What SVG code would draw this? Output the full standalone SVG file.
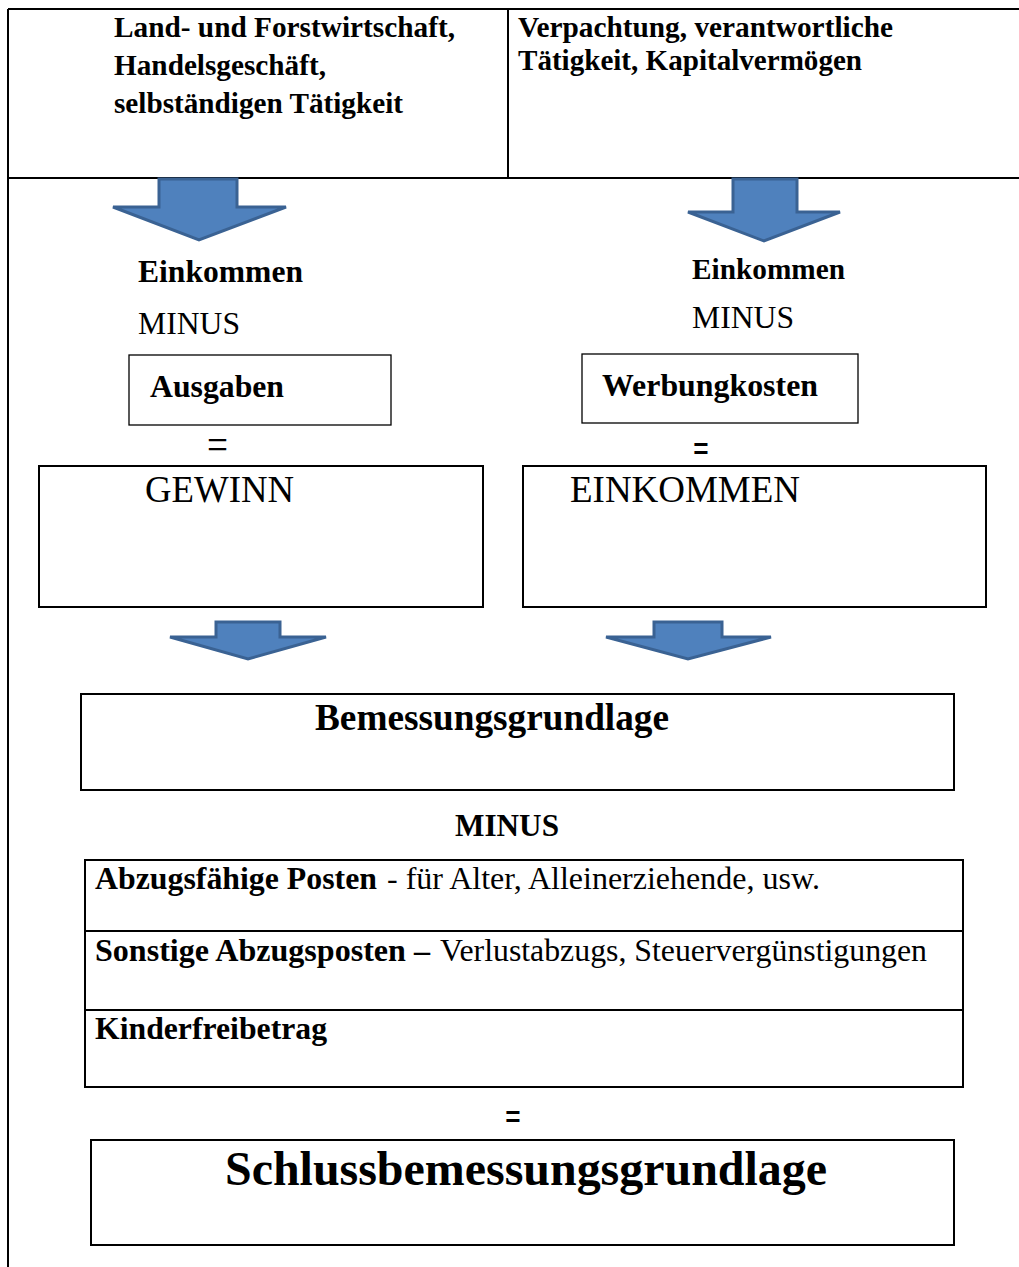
<svg xmlns="http://www.w3.org/2000/svg" width="1019" height="1267" viewBox="0 0 1019 1267">
<style>
  text { font-family: "Liberation Serif", "Times New Roman", serif; fill: #000; }
  .b { font-weight: bold; }
  .frame { stroke: #000; stroke-width: 2; fill: none; }
  .box { stroke: #000; stroke-width: 2; fill: #fff; }
  .thin { stroke: #000; stroke-width: 1.3; fill: #fff; }
  .arrow { fill: #4F81BD; stroke: #3A6293; stroke-width: 3; stroke-linejoin: miter; }
</style>
<rect x="0" y="0" width="1019" height="1267" fill="#fff"/>

<g id="frame">
  <line class="frame" x1="8" y1="9" x2="1019" y2="9"/>
  <line class="frame" x1="8" y1="9" x2="8" y2="1267"/>
  <line class="frame" x1="508" y1="9" x2="508" y2="178"/>
  <line class="frame" x1="8" y1="178" x2="1019" y2="178"/>
</g>

<g id="source-left">
  <text class="b" font-size="29" x="114" y="37" textLength="341" lengthAdjust="spacingAndGlyphs">Land- und Forstwirtschaft,</text>
  <text class="b" font-size="29" x="114" y="75" textLength="212" lengthAdjust="spacingAndGlyphs">Handelsgeschäft,</text>
  <text class="b" font-size="29" x="114" y="113" textLength="289" lengthAdjust="spacingAndGlyphs">selbständigen Tätigkeit</text>
</g>

<g id="source-right">
  <text class="b" font-size="29" x="518" y="37" textLength="375" lengthAdjust="spacingAndGlyphs">Verpachtung, verantwortliche</text>
  <text class="b" font-size="29" x="518" y="70" textLength="344" lengthAdjust="spacingAndGlyphs">Tätigkeit, Kapitalvermögen</text>
</g>

<g id="connectors">
  <path class="arrow" d="M159,179 L237,179 L237,207 L286,207 L199,240 L113,207 L159,207 Z"/>
  <path class="arrow" d="M733,179 L797,179 L797,212 L840,212 L764,241 L688,212 L733,212 Z"/>
  <path class="arrow" d="M216,622 L280,622 L280,637 L326,637 L248,659 L170,637 L216,637 Z"/>
  <path class="arrow" d="M654,622 L722,622 L722,637 L771,637 L688,659 L606,637 L654,637 Z"/>
</g>

<g id="calc-left">
  <text class="b" font-size="31" x="138" y="282" textLength="165" lengthAdjust="spacingAndGlyphs">Einkommen</text>
  <text font-size="31" x="138" y="334" textLength="102" lengthAdjust="spacingAndGlyphs">MINUS</text>
</g>
<g id="ausgaben">
  <rect class="thin" x="129" y="355" width="262" height="70"/>
  <text class="b" font-size="31" x="150" y="397" textLength="134" lengthAdjust="spacingAndGlyphs">Ausgaben</text>
</g>
<g id="eq-left">
  <text font-size="44" x="207" y="459" textLength="21" lengthAdjust="spacingAndGlyphs">=</text>
</g>
<g id="gewinn">
  <rect class="box" x="39" y="466" width="444" height="141"/>
  <text font-size="37" x="145" y="502" textLength="149" lengthAdjust="spacingAndGlyphs">GEWINN</text>
</g>

<g id="calc-right">
  <text class="b" font-size="29" x="692" y="279" textLength="153" lengthAdjust="spacingAndGlyphs">Einkommen</text>
  <text font-size="31" x="692" y="328" textLength="102" lengthAdjust="spacingAndGlyphs">MINUS</text>
</g>
<g id="werbungkosten">
  <rect class="thin" x="582" y="354" width="276" height="69"/>
  <text class="b" font-size="31" x="602" y="396" textLength="216" lengthAdjust="spacingAndGlyphs">Werbungkosten</text>
</g>
<g id="eq-right">
  <text class="b" font-size="42" x="693" y="462" textLength="16" lengthAdjust="spacingAndGlyphs">=</text>
</g>
<g id="einkommen">
  <rect class="box" x="523" y="466" width="463" height="141"/>
  <text font-size="37" x="570" y="502" textLength="230" lengthAdjust="spacingAndGlyphs">EINKOMMEN</text>
</g>

<g id="bemessungsgrundlage">
  <rect class="box" x="81" y="694" width="873" height="96"/>
  <text class="b" font-size="38" x="315" y="730" textLength="354" lengthAdjust="spacingAndGlyphs">Bemessungsgrundlage</text>
</g>

<g id="minus-mid">
  <text class="b" font-size="32" x="455" y="836" textLength="104" lengthAdjust="spacingAndGlyphs">MINUS</text>
</g>

<g id="abzuege">
  <rect class="box" x="85" y="860" width="878" height="227"/>
  <line class="frame" x1="85" y1="931" x2="963" y2="931"/>
  <line class="frame" x1="85" y1="1010" x2="963" y2="1010"/>
  <text font-size="31" y="889"><tspan class="b" x="95" textLength="282" lengthAdjust="spacingAndGlyphs">Abzugsfähige Posten</tspan><tspan x="387" textLength="433" lengthAdjust="spacingAndGlyphs">- für Alter, Alleinerziehende, usw.</tspan></text>
  <text font-size="31" y="961"><tspan class="b" x="95" textLength="335" lengthAdjust="spacingAndGlyphs">Sonstige Abzugsposten –</tspan><tspan x="440" textLength="487" lengthAdjust="spacingAndGlyphs">Verlustabzugs, Steuervergünstigungen</tspan></text>
  <text class="b" font-size="31" x="95" y="1039" textLength="232" lengthAdjust="spacingAndGlyphs">Kinderfreibetrag</text>
</g>

<g id="eq-bottom">
  <text class="b" font-size="42" x="505" y="1130" textLength="16" lengthAdjust="spacingAndGlyphs">=</text>
</g>

<g id="schlussbemessungsgrundlage">
  <rect class="box" x="91" y="1140" width="863" height="105"/>
  <text class="b" font-size="48" x="225" y="1185" textLength="602" lengthAdjust="spacingAndGlyphs">Schlussbemessungsgrundlage</text>
</g>
</svg>
